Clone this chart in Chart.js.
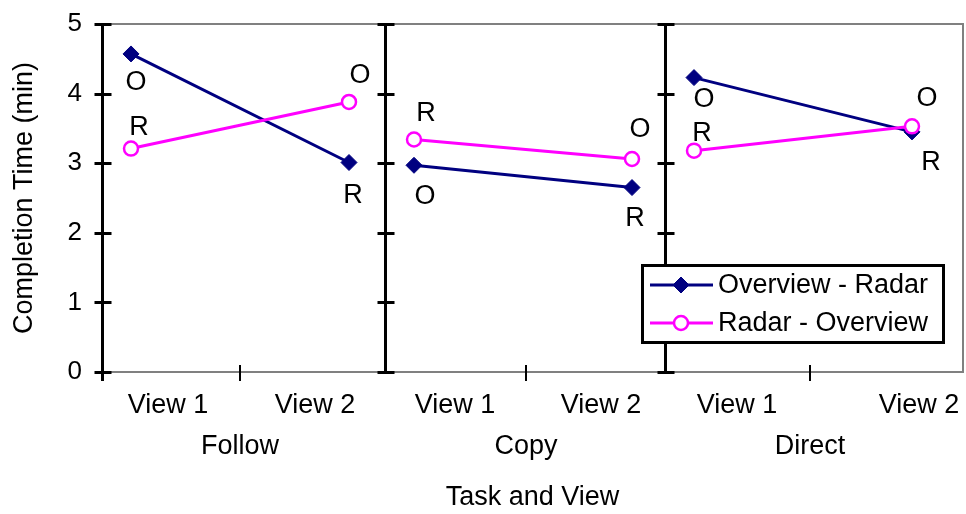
<!DOCTYPE html>
<html><head><meta charset="utf-8">
<script src="https://cdn.jsdelivr.net/npm/chart.js@4.4.1/dist/chart.umd.min.js"></script>
<style>html,body{margin:0;padding:0;background:#fff;overflow:hidden;}canvas{display:block;}</style>
</head><body>
<canvas id="c" width="966" height="514"></canvas>
<script>
// ---------- data ----------
const tasks = ['Follow', 'Copy', 'Direct'];
const views = ['View 1', 'View 2'];
const seriesNames = ['Overview - Radar', 'Radar - Overview'];
const overviewRadar = [4.57, 3.01, 2.97, 2.65, 4.23, 3.45];
const radarOverview = [3.21, 3.88, 3.34, 3.06, 3.18, 3.53];
const overviewRadarMarks = ['O', 'R', 'O', 'R', 'O', 'R'];
const radarOverviewMarks = ['R', 'O', 'R', 'O', 'R', 'O'];
const yTicks = [0, 1, 2, 3, 4, 5];

// ---------- layout (x units measured across the plot area) ----------
const X_MAX = 861;
const panelEdges = [0, 283, 563, 861];
const pointOffsets = [29, 247];
const taskLabelPos = [138, 424, 708];
const viewLabelPos = [66, 213, 353, 499, 635, 817];
// label offsets (px) for the O / R annotations, one per point
const markOffsets = [
  [[5, 29], [4, 33], [11, 31], [3, 31], [10, 22], [19, 31]],
  [[8, -21], [11, -26], [12, -26], [8, -29], [8, -17], [15, -28]]
];
const FONT = '"Liberation Sans", Arial, sans-serif';
const NAVY = '#000080', MAGENTA = '#FF00FF';

function buildSeries(values) {
  const pts = [];
  tasks.forEach((t, i) => {
    views.forEach((v, j) => {
      pts.push({x: panelEdges[i] + pointOffsets[j], y: values[i * views.length + j]});
    });
    if (i < tasks.length - 1) pts.push({x: panelEdges[i + 1], y: null});
  });
  return pts;
}

const styles = [
  {color: NAVY, pointStyle: 'rectRot', radius: 8, fill: NAVY, bw: 1, marks: overviewRadarMarks},
  {color: MAGENTA, pointStyle: 'circle', radius: 7, fill: '#ffffff', bw: 2.5, marks: radarOverviewMarks}
];

const decor = {
  id: 'decor',
  beforeDatasetsDraw(chart) {
    const {ctx, chartArea: a, scales: {x, y}} = chart;
    ctx.save();
    ctx.strokeStyle = '#808080';
    ctx.lineWidth = 2;
    ctx.beginPath();
    ctx.moveTo(a.left, a.top); ctx.lineTo(a.right, a.top);
    ctx.lineTo(a.right, a.bottom); ctx.lineTo(a.left, a.bottom);
    ctx.stroke();
    ctx.strokeStyle = '#000';
    ctx.lineWidth = 2;
    ctx.beginPath();
    taskLabelPos.forEach(p => {
      const px = Math.round(x.getPixelForValue(p));
      ctx.moveTo(px, a.bottom - 7); ctx.lineTo(px, a.bottom + 9);
    });
    ctx.stroke();
    ctx.lineWidth = 3;
    panelEdges.slice(0, tasks.length).forEach((e, i) => {
      const px = Math.round(x.getPixelForValue(e)) + 0.5;
      ctx.beginPath();
      ctx.moveTo(px, a.top - 1);
      ctx.lineTo(px, a.bottom + (i === 0 ? 9 : 2));
      yTicks.forEach(v => {
        const py = Math.round(y.getPixelForValue(v)) + 0.5;
        ctx.moveTo(px - 8, py); ctx.lineTo(px + 9, py);
      });
      ctx.stroke();
    });
    ctx.restore();
  },
  afterDatasetsDraw(chart) {
    const {ctx, chartArea: a} = chart;
    ctx.save();
    ctx.font = '27px ' + FONT;
    ctx.fillStyle = '#000';
    ctx.textAlign = 'center';
    ctx.textBaseline = 'middle';
    chart.data.datasets.forEach((ds, di) => {
      const meta = chart.getDatasetMeta(di);
      const st = styles[di];
      let k = 0;
      meta.data.forEach((el, idx) => {
        if (ds.data[idx].y === null) return;
        const off = markOffsets[di][k];
        ctx.fillText(st.marks[k], el.x + off[0], el.y + off[1]);
        k++;
      });
    });
    // legend
    const L = a.right - 321, T = a.bottom - 107, W = 301, H = 77;
    ctx.fillStyle = '#fff';
    ctx.fillRect(L, T, W, H);
    ctx.strokeStyle = '#000';
    ctx.lineWidth = 3;
    ctx.strokeRect(L + 0.5, T + 0.5, W, H);
    styles.forEach((st, i) => {
      const cy = T + 20 + i * 38;
      ctx.strokeStyle = st.color;
      ctx.lineWidth = 3;
      ctx.beginPath();
      ctx.moveTo(L + 8, cy); ctx.lineTo(L + 71, cy);
      ctx.stroke();
      ctx.fillStyle = st.fill;
      ctx.strokeStyle = st.color;
      ctx.lineWidth = st.bw;
      Chart.helpers.drawPoint(ctx, {pointStyle: st.pointStyle, radius: st.radius, borderWidth: st.bw, rotation: 0}, L + 39, cy);
      ctx.fillStyle = '#000';
      ctx.textAlign = 'left';
      ctx.textBaseline = 'middle';
      ctx.fillText(seriesNames[i], L + 76, cy + 1);
    });
    ctx.restore();
  }
};

const series = [overviewRadar, radarOverview];
new Chart(document.getElementById('c'), {
  type: 'line',
  data: {
    datasets: series.map((vals, i) => ({
      label: seriesNames[i],
      data: buildSeries(vals),
      borderColor: styles[i].color,
      backgroundColor: styles[i].fill,
      borderWidth: 3,
      pointStyle: styles[i].pointStyle,
      pointRadius: styles[i].radius,
      pointBackgroundColor: styles[i].fill,
      pointBorderColor: styles[i].color,
      pointBorderWidth: styles[i].bw,
      spanGaps: false,
      tension: 0,
      clip: false,
      order: i === 0 ? 1 : 0
    }))
  },
  options: {
    responsive: false,
    animation: false,
    devicePixelRatio: 1,
    events: [],
    layout: {autoPadding: false, padding: {top: 24, right: 3, left: 0, bottom: 0}},
    plugins: {legend: {display: false}, tooltip: {enabled: false}},
    scales: {
      y: {
        min: 0, max: 5,
        afterBuildTicks: s => { s.ticks = yTicks.map(v => ({value: v})); },
        ticks: {color: '#000', font: {size: 26, family: FONT}, padding: 20},
        grid: {display: false, drawTicks: false},
        border: {display: false},
        title: {display: true, text: 'Completion Time (min)', color: '#000', font: {size: 27, family: FONT}, padding: {top: 8, bottom: 0}},
        afterFit: s => { s.width = 102; s.paddingTop = 0; s.paddingBottom = 0; }
      },
      x: {
        type: 'linear', min: 0, max: X_MAX, position: 'bottom', weight: 0,
        afterBuildTicks: s => { s.ticks = viewLabelPos.map(v => ({value: v})); },
        ticks: {autoSkip: false, maxRotation: 0, color: '#000', font: {size: 27, family: FONT, lineHeight: '68px'}, padding: 0,
                callback: (v, i) => views[i % views.length]},
        grid: {display: false, drawTicks: false},
        border: {display: false},
        afterFit: s => { s.height = 56; s.paddingLeft = 0; s.paddingRight = 0; }
      },
      x2: {
        type: 'linear', min: 0, max: X_MAX, position: 'bottom', weight: 1,
        afterBuildTicks: s => { s.ticks = taskLabelPos.map(v => ({value: v})); },
        ticks: {autoSkip: false, maxRotation: 0, color: '#000', font: {size: 27, family: FONT, lineHeight: '38px'}, padding: 0,
                callback: (v, i) => tasks[i]},
        grid: {display: false, drawTicks: false},
        border: {display: false},
        title: {display: true, text: 'Task and View', color: '#000', font: {size: 27, family: FONT}, padding: {top: 0, bottom: 0}},
        afterFit: s => { s.height = 86; s.paddingLeft = 0; s.paddingRight = 0; }
      }
    }
  },
  plugins: [decor]
});
</script>
</body></html>
